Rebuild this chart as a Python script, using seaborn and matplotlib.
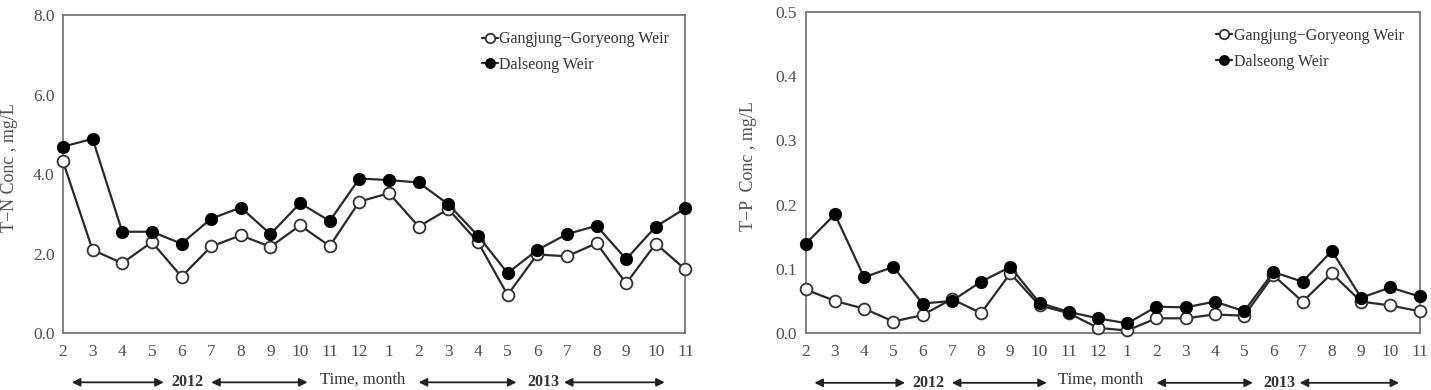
import numpy as np
import pandas as pd
import matplotlib
matplotlib.use("Agg")
import matplotlib.pyplot as plt
import matplotlib.transforms as mtransforms
import seaborn as sns

sns.set_theme(style="white")
plt.rcParams["font.family"] = ["Liberation Serif", "DejaVu Serif"]

# month labels (Feb 2012 -> Nov 2013)
months = ["2", "3", "4", "5", "6", "7", "8", "9", "10", "11", "12",
          "1", "2", "3", "4", "5", "6", "7", "8", "9", "10", "11"]

tn_gangjung = [4.32, 2.09, 1.76, 2.29, 1.42, 2.18, 2.46, 2.17, 2.71, 2.19, 3.31,
               3.52, 2.68, 3.12, 2.29, 0.96, 1.98, 1.93, 2.26, 1.25, 2.25, 1.60]
tn_dalseong = [4.69, 4.89, 2.55, 2.55, 2.25, 2.88, 3.16, 2.49, 3.27, 2.82, 3.89,
               3.85, 3.79, 3.24, 2.45, 1.51, 2.09, 2.49, 2.70, 1.86, 2.68, 3.14]

tp_gangjung = [0.068, 0.050, 0.038, 0.018, 0.028, 0.053, 0.031, 0.093, 0.043, 0.031, 0.008,
               0.004, 0.023, 0.023, 0.029, 0.027, 0.090, 0.049, 0.093, 0.049, 0.043, 0.034]
tp_dalseong = [0.139, 0.185, 0.087, 0.103, 0.046, 0.050, 0.080, 0.103, 0.047, 0.033, 0.023,
               0.015, 0.041, 0.040, 0.049, 0.034, 0.095, 0.080, 0.128, 0.055, 0.071, 0.057]

series_names = ["Gangjung\u2212Goryeong Weir", "Dalseong Weir"]

idx = np.arange(len(months))
tn = pd.DataFrame({"idx": idx, "gj": tn_gangjung, "ds": tn_dalseong})
tp = pd.DataFrame({"idx": idx, "gj": tp_gangjung, "ds": tp_dalseong})

fig = plt.figure(figsize=(14.31, 3.9), dpi=100)
ax1 = fig.add_axes([0.044, 0.146, 0.435, 0.815])
ax2 = fig.add_axes([0.563, 0.146, 0.429, 0.823])

line_c = "#2a2a2a"
text_c = "#505050"


def draw(ax, df, ylim, step, minor, ylabel, label_x):
    sns.lineplot(data=df, x="idx", y="gj", ax=ax, color=line_c, lw=1.6,
                 marker="o", markersize=8.5, markerfacecolor="white",
                 markeredgecolor="#333333", markeredgewidth=1.3,
                 label=series_names[0], zorder=3, clip_on=False)
    sns.lineplot(data=df, x="idx", y="ds", ax=ax, color=line_c, lw=1.6,
                 marker="o", markersize=8.5, markerfacecolor="black",
                 markeredgecolor="black", markeredgewidth=1.0,
                 label=series_names[1], zorder=4, clip_on=False)
    ax.set_xlim(0, len(months) - 1)
    ax.set_ylim(*ylim)
    ax.set_xticks(idx)
    ax.set_xticklabels(months)
    yt = np.arange(ylim[0], ylim[1] + step / 2, step)
    ax.set_yticks(yt)
    ax.set_yticklabels([f"{v:.1f}" for v in yt])
    if minor:
        ax.set_yticks(np.arange(ylim[0] + minor, ylim[1], step), minor=True)
    ax.tick_params(axis="both", which="both", direction="in", length=4,
                   color="#666666", labelsize=12.5, labelcolor=text_c, pad=6)
    ax.tick_params(axis="x", pad=8)
    for s in ax.spines.values():
        s.set_color("#777777")
        s.set_linewidth(1.3)
    ax.set_xlabel("")
    ax.set_ylabel(ylabel, fontsize=13, color=text_c)
    ax.yaxis.set_label_coords(label_x, 0.52)
    leg = ax.legend(loc="upper right", frameon=False, fontsize=11.5, handlelength=1.0,
                    handletextpad=0.1, labelspacing=0.6, borderaxespad=0.6,
                    markerscale=0.8)
    for t in leg.get_texts():
        t.set_color("#333333")

    # year arrows beneath the month ticks
    trans = mtransforms.blended_transform_factory(ax.transData, ax.transAxes)
    yy = -0.155
    for x0, x1 in [(0.3, 3.4), (5.0, 8.25), (12.0, 15.3), (16.9, 20.3)]:
        ax.annotate("", xy=(x0, yy), xytext=(x1, yy), xycoords=trans, textcoords=trans,
                    arrowprops=dict(arrowstyle="<|-|>", color="#222222", lw=1.3,
                                    mutation_scale=12, shrinkA=0, shrinkB=0),
                    annotation_clip=False)
    ax.text(4.2, yy, "2012", transform=trans, ha="center", va="center",
            fontsize=11.5, fontweight="bold", color="#333333")
    ax.text(16.2, yy, "2013", transform=trans, ha="center", va="center",
            fontsize=11.5, fontweight="bold", color="#333333")
    ax.text(10.1, yy + 0.01, "Time, month", transform=trans, ha="center", va="center",
            fontsize=12, color="#333333")


draw(ax1, tn, (0.0, 8.0), 2.0, 1.0, "T\u2212N Conc , mg/L", -0.072)
draw(ax2, tp, (0.0, 0.5), 0.1, None, "T\u2212P  Conc , mg/L", -0.08)

fig.savefig("out.png", dpi=100, facecolor="white")
